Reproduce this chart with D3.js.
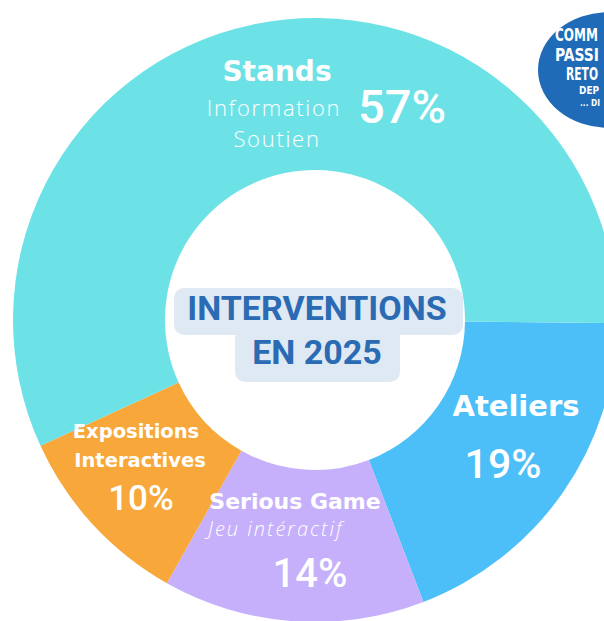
<!DOCTYPE html>
<html>
<head>
<meta charset="utf-8">
<script src="https://cdn.jsdelivr.net/npm/d3@7"></script>
<style>
  html, body { margin: 0; padding: 0; background: #ffffff; }
  svg { display: block; }
</style>
</head>
<body>
<svg id="place" width="604" height="621"></svg>
<script>
// slices clockwise from 3 o'clock
var categories = ["Ateliers", "Serious Game", "Expositions Interactives", "Stands"];
var values = [19, 14, 10, 57];
var colors = ["#4dbff8", "#c6b0fb", "#f8a83b", "#6ce2e7"];

var svg = d3.select("#place");
var cx = 315, cy = 320;

var color = d3.scaleOrdinal().domain(categories).range(colors);

var start = Math.PI / 2 + 0.01;
var pie = d3.pie()
    .sort(null)
    .value(function(d) { return d.value; })
    .startAngle(start)
    .endAngle(start + 2 * Math.PI);

var arc = d3.arc()
    .innerRadius(150)
    .outerRadius(302);

var slices = categories.map(function(c, i) {
    return {name: c, value: values[i]};
});

var g = svg.append("g")
    .attr("transform", "translate(" + cx + "," + cy + ")");

g.selectAll("path")
    .data(pie(slices))
    .enter().append("path")
    .attr("d", arc)
    .attr("fill", function(d) { return color(d.data.name); });

// logo blob, top right (cut by the edge)
var logo = svg.append("g");
logo.append("ellipse")
    .attr("cx", 609).attr("cy", 70)
    .attr("rx", 71).attr("ry", 58)
    .attr("fill", "#1f6bb7");
// text, x, y, size, width
var logoLines = [["COMM", 555, 41, 17, 43], ["PASSI", 555, 61, 17, 44], ["RETO", 566, 80, 17, 32], ["DEP", 579, 94, 11, 20], ["... DI", 580, 106, 9, 20]];
logoLines.forEach(function(l) {
    logo.append("text")
        .attr("x", l[1]).attr("y", l[2])
        .attr("textLength", l[4])
        .attr("lengthAdjust", "spacingAndGlyphs")
        .style("font-family", "'Liberation Sans Narrow', 'DejaVu Sans Condensed', sans-serif")
        .style("font-weight", "bold")
        .style("font-size", l[3] + "px")
        .attr("fill", "#ffffff")
        .text(l[0]);
});

// centre title
svg.append("rect")
    .attr("x", 174).attr("y", 288).attr("width", 289).attr("height", 47)
    .attr("rx", 10).attr("fill", "#dee9f3");
svg.append("rect")
    .attr("x", 235).attr("y", 328).attr("width", 165).attr("height", 54)
    .attr("rx", 10).attr("fill", "#dee9f3");
[["INTERVENTIONS", 320], ["EN 2025", 364]].forEach(function(t) {
    svg.append("text")
        .attr("x", 317).attr("y", t[1])
        .style("text-anchor", "middle")
        .style("font-family", "Roboto, sans-serif")
        .style("font-weight", "bold")
        .style("font-size", "34px")
        .attr("fill", "#2a6bb3")
        .text(t[0]);
});

// slice labels
var bold = "'DejaVu Sans', sans-serif";
var light = "'Open Sans', sans-serif";
var pct = "Roboto, sans-serif";
var labels = [
    ["Stands", 277, 81, bold, 700, 28, "middle", "normal", 0],
    ["Information", 274, 116, light, 300, 22, "middle", "normal", 1.7],
    ["Soutien", 277, 147, light, 300, 22, "middle", "normal", 1.7],
    [values[3] + "%", 358, 123, pct, 500, 47, "start", "normal", 0],
    ["Ateliers", 516, 416, bold, 700, 29, "middle", "normal", 0],
    [values[0] + "%", 503, 478, pct, 500, 41, "middle", "normal", 0],
    ["Expositions", 136, 438, bold, 700, 19.5, "middle", "normal", 0],
    ["Interactives", 140, 467, bold, 700, 19.5, "middle", "normal", 0],
    [values[2] + "%", 141, 510, pct, 500, 35, "middle", "normal", 0],
    ["Serious Game", 295, 509, bold, 700, 22, "middle", "normal", 0],
    ["Jeu intéractif", 208, 536, light, 300, 20, "start", "italic", 2],
    [values[1] + "%", 310, 587, pct, 500, 40, "middle", "normal", 0]
];
labels.forEach(function(l) {
    svg.append("text")
        .attr("x", l[1]).attr("y", l[2])
        .style("text-anchor", l[6])
        .style("font-family", l[3])
        .style("font-weight", l[4])
        .style("font-size", l[5] + "px")
        .style("font-style", l[7])
        .style("letter-spacing", l[8] + "px")
        .attr("fill", "#ffffff")
        .text(l[0]);
});
</script>
</body>
</html>
